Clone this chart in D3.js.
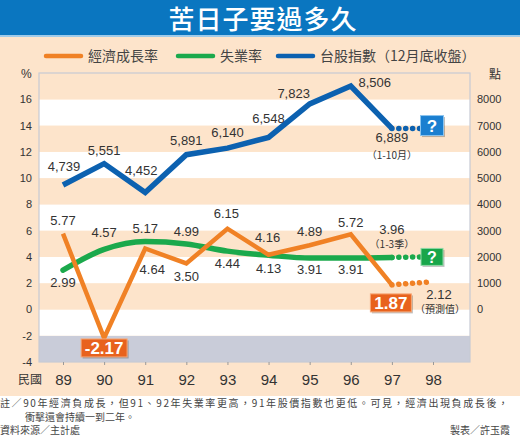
<!DOCTYPE html>
<html>
<head>
<meta charset="utf-8">
<script src="https://cdn.jsdelivr.net/npm/d3@7"></script>
<style>
  body { margin: 0; background: #fff; }
  svg { display: block; }
</style>
</head>
<body>
<div id="chart"></div>
<script>
// ---------- data ----------
const years = [89, 90, 91, 92, 93, 94, 95, 96, 97]
const forecastYear = 98
const growth = [5.77, -2.17, 4.64, 3.50, 6.15, 4.16, 4.89, 5.72, 1.87]
const growthForecast = 2.12
const unemployment = [2.99, 4.57, 5.17, 4.99, 4.44, 4.13, 3.91, 3.91, 3.96]
const unemploymentUnknown = 4.0   // where the "?" sits
const taiex = [4739, 5551, 4452, 5891, 6140, 6548, 7823, 8506, 6889]
const taiexUnknown = 7000         // where the "?" sits
const xTicks = [89, 90, 91, 92, 93, 94, 95, 96, 97, 98]
const leftTicks = [-4, -2, 0, 2, 4, 6, 8, 10, 12, 14, 16]
const rightTicks = [0, 1000, 2000, 3000, 4000, 5000, 6000, 7000, 8000]

// label offsets (dx, dy) from each point
const taiexLabelOff = [[1, -14], [0, -9], [-4, -17], [0, -10], [0, -11], [0, -14], [-16, -6], [24, 1], [0, 14]]
const growthLabelOff = [[0, -9], null, [7, 25], [0, 18], [-1, -11], [-1, -13], [0, -9], [0, -7], null]
const unempLabelOff = [[0, 17], [0, -12], [0, -9], [0, -8], [0, 17], [0, 18], [0, 16], [0, 16], [0, -23]]

// ---------- setup ----------
const W = 520, H = 444
const cjk = '"Noto Sans CJK TC", "Noto Sans CJK SC", sans-serif'
const num = '"Liberation Sans", Arial, sans-serif'
const orange = '#f08125', green = '#1ba94c', blue = '#0c61b0'
const peach = '#fde4cb', txt = '#333'

// plain hyphen for negatives, like the print chart
const loc = d3.formatLocale({ decimal: '.', thousands: ',', grouping: [3], currency: ['', ''], minus: '-' })
const fmtIdx = loc.format(',')
const fmtPct = loc.format('.2f')
const fmtInt = loc.format('d')

const svg = d3.select('#chart').append('svg')
  .attr('width', W).attr('height', H)

const plot = { l: 39, r: 470, t: 73, b: 362 }
const x = d3.scaleLinear().domain([89, 98]).range([63, 433])
const y = d3.scaleLinear().domain([-4, 18]).range([plot.b, plot.t])
const yR = d3.scaleLinear().domain([-2000, 9000]).range([plot.b, plot.t])

// title bar
svg.append('rect').attr('x', 0).attr('y', 0).attr('width', W).attr('height', 35).style('fill', '#0a76c0')
svg.append('rect').attr('x', 0).attr('y', 35).attr('width', W).attr('height', 2).style('fill', '#9fcbea')
svg.append('text')
  .attr('x', 263).attr('y', 29)
  .attr('text-anchor', 'middle')
  .style('font-family', cjk).style('font-size', '26px').style('font-weight', 500)
  .style('fill', '#fff').style('letter-spacing', '1px')
  .text('苦日子要過多久')

// peach panel
svg.append('rect').attr('x', 0).attr('y', 37).attr('width', W).attr('height', 359).style('fill', peach)

// bands inside plot
const bands = d3.range(-4, 18, 2)
svg.append('g').selectAll('rect').data(bands).join('rect')
  .attr('x', plot.l).attr('width', plot.r - plot.l)
  .attr('y', d => y(d + 2)).attr('height', d => y(d) - y(d + 2))
  .style('fill', d => d === -4 ? '#c9ccd9' : (((d + 4) / 2) % 2 === 1 ? '#fff' : peach))
// top strip (16-18) is peach
svg.append('rect').attr('x', plot.l).attr('width', plot.r - plot.l)
  .attr('y', y(18)).attr('height', y(16) - y(18)).style('fill', peach)
svg.append('rect')
  .attr('x', plot.l).attr('y', plot.t).attr('width', plot.r - plot.l).attr('height', plot.b - plot.t)
  .style('fill', 'none').style('stroke', '#c7cad4').style('stroke-width', 1.2)

// axes
const leftAxis = svg.append('g').attr('transform', `translate(${plot.l},0)`)
  .call(d3.axisLeft(y).tickValues(leftTicks).tickSize(0).tickPadding(7).tickFormat(fmtInt))
const rightAxis = svg.append('g').attr('transform', `translate(${plot.r},0)`)
  .call(d3.axisRight(yR).tickValues(rightTicks).tickSize(0).tickPadding(7).tickFormat(fmtInt))
const bottomAxis = svg.append('g').attr('transform', `translate(0,${plot.b})`)
  .call(d3.axisBottom(x).tickValues(xTicks).tickSize(3).tickPadding(9).tickFormat(fmtInt))
;[leftAxis, rightAxis, bottomAxis].forEach(g => {
  g.select('.domain').remove()
  g.selectAll('text').style('font-family', num).style('fill', txt)
})
leftAxis.selectAll('text').style('font-size', '11px')
rightAxis.selectAll('text').style('font-size', '11px')
bottomAxis.selectAll('text').style('font-size', '15px')
bottomAxis.selectAll('line').style('stroke', '#999')

svg.append('text').attr('x', 21).attr('y', 78)
  .style('font-family', num).style('font-size', '12px').style('fill', txt).text('%')
svg.append('text').attr('x', 489).attr('y', 79)
  .style('font-family', cjk).style('font-size', '12px').style('fill', txt).text('點')
svg.append('text').attr('x', 18).attr('y', 384)
  .style('font-family', cjk).style('font-size', '12px').style('fill', txt).text('民國')

// legend
const legend = [
  { label: '經濟成長率', color: orange, x: 46 },
  { label: '失業率', color: green, x: 178 },
  { label: '台股指數（12月底收盤）', color: blue, x: 278 }
]
const lg = svg.append('g')
legend.forEach(d => {
  lg.append('line')
    .attr('x1', d.x).attr('x2', d.x + 35).attr('y1', 56).attr('y2', 56)
    .style('stroke', d.color).style('stroke-width', 4.5).style('stroke-linecap', 'round')
  lg.append('text')
    .attr('x', d.x + 42).attr('y', 61)
    .style('font-family', cjk).style('font-size', '14px').style('fill', '#444')
    .text(d.label)
})

// ---------- lines ----------
const pctLine = d3.line().x(d => x(d[0])).y(d => y(d[1]))
const greenLine = d3.line().x(d => x(d[0])).y(d => y(d[1])).curve(d3.curveMonotoneX)
const idxLine = d3.line().x(d => x(d[0])).y(d => yR(d[1]))

function dotted (data, line, color) {
  svg.append('path')
    .attr('d', line(data))
    .style('fill', 'none').style('stroke', color).style('stroke-width', 5.5)
    .style('stroke-linecap', 'round').style('stroke-dasharray', '0.1 6.8')
}

// dotted extensions
dotted([[97, unemployment[8]], [97.7, unemploymentUnknown]], pctLine, green)
dotted([[97, growth[8]], [forecastYear, growthForecast]], pctLine, orange)
dotted([[97, taiex[8]], [97.7, taiex[8]]], idxLine, blue)

svg.append('path')
  .attr('d', greenLine(years.map((d, i) => [d, unemployment[i]])))
  .style('fill', 'none').style('stroke', green).style('stroke-width', 5.5)
  .style('stroke-linejoin', 'round').style('stroke-linecap', 'round')
svg.append('path')
  .attr('d', pctLine(years.map((d, i) => [d, growth[i]])))
  .style('fill', 'none').style('stroke', orange).style('stroke-width', 4.5)
  .style('stroke-linejoin', 'miter')
svg.append('path')
  .attr('d', idxLine(years.map((d, i) => [d, taiex[i]])))
  .style('fill', 'none').style('stroke', blue).style('stroke-width', 5.5)
  .style('stroke-linejoin', 'miter')

// ---------- labels ----------
function label (px, py, text, size) {
  svg.append('text')
    .attr('x', px).attr('y', py)
    .attr('text-anchor', 'middle')
    .style('font-family', num).style('font-size', (size || 13) + 'px').style('fill', txt)
    .text(text)
}
function subLabel (px, py, text) {
  svg.append('text')
    .attr('x', px).attr('y', py)
    .attr('text-anchor', 'middle')
    .style('font-family', cjk).style('font-size', '10px').style('fill', txt)
    .text(text)
}

taiex.forEach((v, i) => {
  const o = taiexLabelOff[i]
  label(x(years[i]) + o[0], yR(v) + o[1], fmtIdx(v))
})
subLabel(x(97), yR(taiex[8]) + 31, '（1-10月）')

growth.forEach((v, i) => {
  const o = growthLabelOff[i]
  if (o) label(x(years[i]) + o[0], y(v) + o[1], fmtPct(v))
})
label(x(forecastYear) + 6, y(growthForecast) + 17, fmtPct(growthForecast))
subLabel(x(forecastYear) + 7, y(growthForecast) + 31, '（預測值）')

unemployment.forEach((v, i) => {
  const o = unempLabelOff[i]
  label(x(years[i]) + o[0], y(v) + o[1], fmtPct(v))
})
subLabel(x(97), y(unemployment[8]) - 9, '（1-3季）')

// boxed labels
function box (cx, cy, w, h, fill, edge, text, size) {
  const g = svg.append('g')
  g.append('rect')
    .attr('x', cx - w / 2 + 1.5).attr('y', cy - h / 2 + 1.5).attr('width', w).attr('height', h)
    .style('fill', 'rgba(0,0,0,0.25)')
  g.append('rect')
    .attr('x', cx - w / 2).attr('y', cy - h / 2).attr('width', w).attr('height', h)
    .style('fill', fill).style('stroke', edge).style('stroke-width', 1)
  g.append('text')
    .attr('x', cx).attr('y', cy + size * 0.36)
    .attr('text-anchor', 'middle')
    .style('font-family', num).style('font-size', size + 'px').style('font-weight', 'bold')
    .style('fill', '#fff')
    .text(text)
}
box(x(90), y(growth[1]) + 10, 46, 18, '#e8621d', '#f7a878', fmtPct(growth[1]), 17)
box(x(97) - 1, y(growth[8]) + 18, 41, 18, '#e8621d', '#f7a878', fmtPct(growth[8]), 17)
box(x(forecastYear) - 1, yR(taiexUnknown), 23, 20, '#1b7fd0', '#8cc4ee', '?', 17)
box(x(forecastYear) - 1, y(unemploymentUnknown), 22, 17, '#18a64a', '#8fd9a6', '?', 16)

// ---------- notes ----------
const notes = [
  { t: '註／90年經濟負成長，但91、92年失業率更高，91年股價指數也更低。可見，經濟出現負成長後，', x: 0, y: 407, len: 508 },
  { t: '衝擊還會持續一到二年。', x: 25, y: 421 },
  { t: '資料來源／主計處', x: 0, y: 434 }
]
notes.forEach(n => {
  const t = svg.append('text').attr('x', n.x).attr('y', n.y)
    .style('font-family', cjk).style('font-size', '10px').style('fill', '#444')
    .text(n.t)
  if (n.len) t.attr('textLength', n.len).attr('lengthAdjust', 'spacing')
})
svg.append('text').attr('x', 510).attr('y', 434).attr('text-anchor', 'end')
  .style('font-family', cjk).style('font-size', '10px').style('fill', '#444')
  .text('製表／許玉霞')
</script>
</body>
</html>
